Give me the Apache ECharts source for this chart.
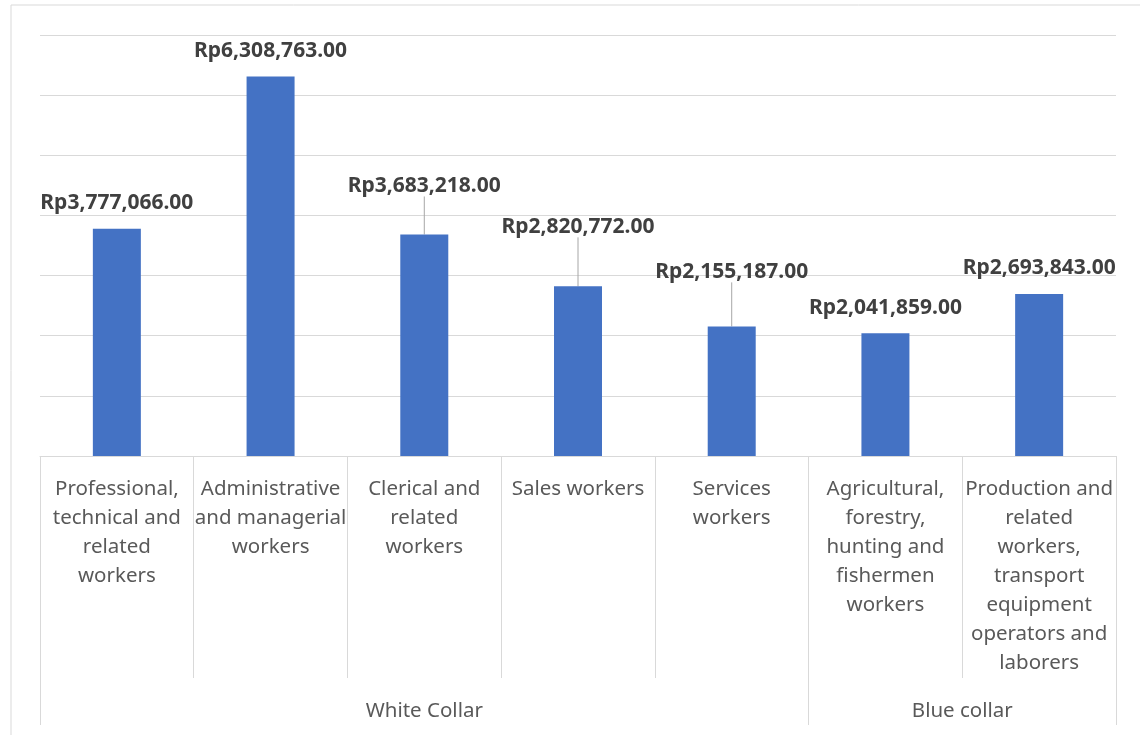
<!DOCTYPE html>
<html>
<head>
<meta charset="utf-8">
<title>Average wage by occupation</title>
<script src="https://cdn.jsdelivr.net/npm/echarts@6/dist/echarts.min.js"></script>
<style>
  html, body { margin: 0; padding: 0; background: #ffffff; }
  #chart { width: 1140px; height: 735px; }
</style>
</head>
<body>
<div id="chart"></div>
<script>
// Occupation categories (line breaks follow the wrapped cell text)
const categories = [
  'Professional,\ntechnical and\nrelated\nworkers',
  'Administrative\nand managerial\nworkers',
  'Clerical and\nrelated\nworkers',
  'Sales workers',
  'Services\nworkers',
  'Agricultural,\nforestry,\nhunting and\nfishermen\nworkers',
  'Production and\nrelated\nworkers,\ntransport\nequipment\noperators and\nlaborers'
];

// Average wage per occupation (Rupiah)
const wages = [3777066, 6308763, 3683218, 2820772, 2155187, 2041859, 2693843];

// Occupation groups and how many categories each spans
const groupNames = ['White Collar', 'Blue collar'];
const groupSizes = [5, 2];

// Value axis range (no tick labels shown, only gridlines)
const yMin = 0;
const yMax = 7000000;
const yStep = 1000000;

// Group boundaries and centres on a 0..n scale matching the category bands
const groupEdges = [0];
groupSizes.forEach(s => groupEdges.push(groupEdges[groupEdges.length - 1] + s));
const groupCentres = groupSizes.map((s, i) => groupEdges[i] + s / 2);

// Labels lifted above their bars with a leader line
const labelLift = { 2: -23, 3: -34, 4: -29 };

const fmtRp = v => 'Rp' + v.toLocaleString('en-US') + '.00';

const gridColor = '#D9D9D9';

const barData = wages.map((v, i) => ({
  value: v,
  labelLine: { show: labelLift[i] !== undefined }
}));

const chart = echarts.init(document.getElementById('chart'), null, { renderer: 'canvas' });

chart.setOption({
  animation: false,
  backgroundColor: '#ffffff',
  textStyle: { fontFamily: 'Noto Sans' },
  graphic: [{
    type: 'rect',
    shape: { x: 11, y: 5, width: 1160, height: 760 },
    style: { fill: 'none', stroke: gridColor, lineWidth: 1 },
    silent: true,
    z: -1
  }],
  grid: { left: 40, right: 24, top: 35, bottom: 279, containLabel: false },
  xAxis: [
    {
      type: 'category',
      data: categories,
      boundaryGap: true,
      axisLine: { show: true, lineStyle: { color: gridColor, width: 1 } },
      axisTick: { show: true, length: 222, lineStyle: { color: gridColor, width: 1 } },
      axisLabel: {
        color: '#595959',
        fontSize: 20.5,
        lineHeight: 29,
        margin: 19,
        interval: 0,
        align: 'center',
        verticalAlign: 'top'
      },
      splitLine: { show: false }
    },
    {
      type: 'value',
      position: 'bottom',
      min: 0,
      max: categories.length,
      axisLine: { show: false },
      axisTick: {
        show: true,
        customValues: groupEdges,
        length: 269,
        lineStyle: { color: gridColor, width: 1 }
      },
      axisLabel: {
        show: true,
        customValues: groupCentres,
        formatter: v => {
          const i = groupCentres.indexOf(v);
          return i >= 0 ? groupNames[i] : '';
        },
        color: '#595959',
        fontSize: 20.5,
        margin: 245,
        verticalAlign: 'top'
      },
      splitLine: { show: false }
    }
  ],
  yAxis: {
    type: 'value',
    min: yMin,
    max: yMax,
    interval: yStep,
    axisLine: { show: false },
    axisTick: { show: false },
    axisLabel: { show: false },
    splitLine: { show: true, lineStyle: { color: gridColor, width: 1 } }
  },
  series: [{
    type: 'bar',
    xAxisIndex: 0,
    data: barData,
    barWidth: 48,
    itemStyle: { color: '#4472C4' },
    label: {
      show: true,
      position: 'top',
      distance: 15,
      formatter: p => fmtRp(p.value),
      color: '#404040',
      fontSize: 21,
      fontWeight: 'bold'
    },
    labelLine: {
      show: true,
      lineStyle: { color: '#A6A6A6', width: 1 }
    },
    labelLayout: p => (labelLift[p.dataIndex] ? { dy: labelLift[p.dataIndex] } : {})
  }]
});
</script>
</body>
</html>
